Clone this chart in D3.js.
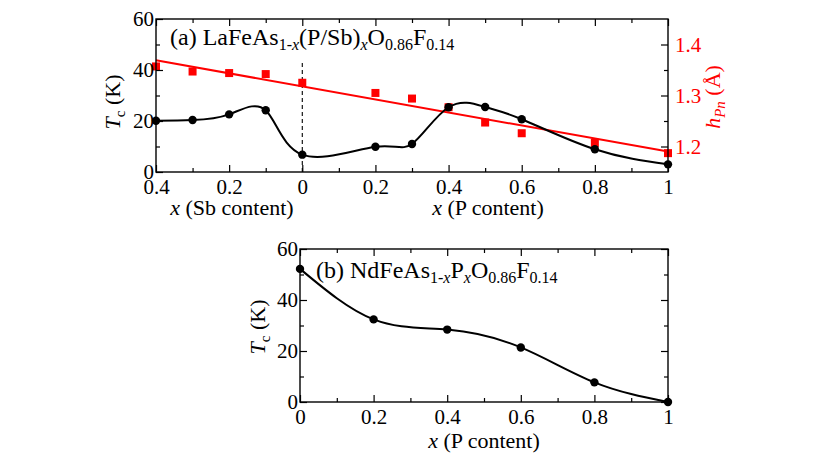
<!DOCTYPE html>
<html>
<head>
<meta charset="utf-8">
<script src="https://cdn.jsdelivr.net/npm/d3@7"></script>
<style>
  body { margin: 0; background: #fff; }
  svg text, svg tspan { font-family: "Liberation Serif", "DejaVu Serif", serif !important; }
</style>
</head>
<body>
<svg id="chart" width="830" height="467" font-family="Liberation Serif"></svg>
<script>
// panel (a): negative x = Sb content, positive x = P content
const xA = [-0.4, -0.3, -0.2, -0.1, 0, 0.2, 0.3, 0.4, 0.5, 0.6, 0.8, 1];
const tcA = [20.1, 20.4, 22.6, 24.2, 6.8, 9.9, 11.0, 25.4, 25.5, 20.7, 8.9, 3.0];
const hPnA = [1.357, 1.347, 1.344, 1.342, 1.325, 1.305, 1.294, 1.277, 1.247, 1.226, 1.207, 1.187];
const fitX = [-0.4, 1];
const fitH = [1.369, 1.190];
const dashTop = 43;

// panel (b)
const xB = [0, 0.2, 0.4, 0.6, 0.8, 1];
const tcB = [52.2, 32.4, 28.4, 21.4, 7.7, 0];

const tcTicks = [0, 20, 40, 60];
const tcMinor = [10, 30, 50];
const hTicks = [1.2, 1.3, 1.4];
const hMinor = [1.25, 1.35];
const xTicksA = [-0.4, -0.2, 0, 0.2, 0.4, 0.6, 0.8, 1];
const xMinorA = [-0.3, -0.1, 0.1, 0.3, 0.5, 0.7, 0.9];
const xTicksB = [0, 0.2, 0.4, 0.6, 0.8, 1];
const xMinorB = [0.1, 0.3, 0.5, 0.7, 0.9];

const svg = d3.select('#chart');
const red = '#ff0000';
const serif = 'Liberation Serif';
const tickFont = 21;

function fmt(d) {
    const v = Math.abs(d);
    return v === 0 ? '0' : String(+v.toFixed(2));
}

// draws inward ticks on all four sides + frame
function frame(g, x, y, xt, xm, yt, ym, w, h, noRight) {
    g.append('g').attr('transform', `translate(0,${h})`)
        .call(d3.axisBottom(x).tickValues(xt).tickSize(-7).tickPadding(7).tickFormat(fmt));
    g.append('g').attr('transform', `translate(0,${h})`)
        .call(d3.axisBottom(x).tickValues(xm).tickSize(-4).tickFormat(''));
    g.append('g').call(d3.axisTop(x).tickValues(xt).tickSize(-7).tickFormat(''));
    g.append('g').call(d3.axisTop(x).tickValues(xm).tickSize(-4).tickFormat(''));
    g.append('g').call(d3.axisLeft(y).tickValues(yt).tickSize(-7).tickPadding(2).tickFormat(d3.format('d')));
    g.append('g').call(d3.axisLeft(y).tickValues(ym).tickSize(-4).tickFormat(''));
    if (!noRight) {
        g.append('g').attr('transform', `translate(${w},0)`)
            .call(d3.axisRight(y).tickValues(yt).tickSize(-7).tickFormat(''));
        g.append('g').attr('transform', `translate(${w},0)`)
            .call(d3.axisRight(y).tickValues(ym).tickSize(-4).tickFormat(''));
    }
    g.selectAll('.domain').remove();
    g.selectAll('g').attr('font-family', serif);
    g.selectAll('.tick line').attr('stroke', '#000').attr('stroke-width', 1.2);
    g.selectAll('.tick text').attr('font-size', tickFont).attr('fill', '#000')
        .attr('font-family', serif);
    g.append('rect').attr('width', w).attr('height', h)
        .attr('fill', 'none').attr('stroke', '#000').attr('stroke-width', 1.4);
}

function formula(g, x, y, parts) {
    const t = g.append('text').attr('x', x).attr('y', y).attr('font-size', 24)
        .attr('font-family', serif).attr('fill', '#000');
    let shifted = false;
    parts.forEach(p => {
        const s = t.append('tspan').text(p.t);
        if (p.sub) {
            s.attr('font-size', 16);
            if (!shifted) s.attr('dy', 5);
            shifted = true;
        } else if (shifted) {
            s.attr('dy', -5);
            shifted = false;
        }
        if (p.it) s.attr('font-style', 'italic');
    });
}

function axisTitle(x, y, rest) {
    const t = svg.append('text').attr('x', x).attr('y', y).attr('text-anchor', 'middle')
        .attr('font-size', 22).attr('font-family', serif);
    t.append('tspan').attr('font-style', 'italic').text('x');
    t.append('tspan').text(rest);
}

function tcLabel(x, y) {
    const t = svg.append('text').attr('transform', `translate(${x},${y}) rotate(-90)`)
        .attr('text-anchor', 'middle').attr('font-size', 22).attr('font-family', serif);
    t.append('tspan').attr('font-style', 'italic').text('T');
    t.append('tspan').attr('font-size', 15).attr('dy', 5).text('c');
    t.append('tspan').attr('dy', -5).text(' (K)');
}

// ---------- panel (a) ----------
const wA = 512, hA = 153;
const gA = svg.append('g').attr('transform', 'translate(156,19)');
const xScaleA = d3.scaleLinear().domain([-0.4, 1]).range([0, wA]);
const yScaleA = d3.scaleLinear().domain([0, 60]).range([hA, 0]);
const hScale = d3.scaleLinear().domain([1.15, 1.45]).range([hA, 0]);

gA.append('line')
    .attr('x1', xScaleA(0)).attr('x2', xScaleA(0))
    .attr('y1', yScaleA(0)).attr('y2', yScaleA(dashTop))
    .attr('stroke', '#000').attr('stroke-width', 1.1).attr('stroke-dasharray', '4,3');

// red linear fit
gA.append('line')
    .attr('x1', xScaleA(fitX[0])).attr('y1', hScale(fitH[0]))
    .attr('x2', xScaleA(fitX[1])).attr('y2', hScale(fitH[1]))
    .attr('stroke', red).attr('stroke-width', 2);

gA.selectAll('rect.hpn')
    .data(xA)
    .join('rect')
    .attr('class', 'hpn')
    .attr('x', d => xScaleA(d) - 4)
    .attr('y', (d, i) => hScale(hPnA[i]) - 4)
    .attr('width', 8).attr('height', 8)
    .attr('fill', red);

const lineA = d3.line()
    .x(d => xScaleA(d[0]))
    .y(d => yScaleA(d[1]))
    .curve(d3.curveNatural);

gA.append('path')
    .datum(xA.map((d, i) => [d, tcA[i]]))
    .attr('d', lineA)
    .attr('fill', 'none').attr('stroke', '#000').attr('stroke-width', 2);

gA.selectAll('circle')
    .data(xA)
    .join('circle')
    .attr('cx', d => xScaleA(d))
    .attr('cy', (d, i) => yScaleA(tcA[i]))
    .attr('r', 4.2)
    .attr('fill', '#000');

frame(gA, xScaleA, yScaleA, xTicksA, xMinorA, tcTicks, tcMinor, wA, hA, true);

// right axis (h_Pn)
const rA = gA.append('g').attr('transform', `translate(${wA},0)`);
rA.append('g').call(d3.axisLeft(hScale).tickValues(hTicks).tickSize(7).tickFormat(d3.format('.1f')));
rA.append('g').call(d3.axisLeft(hScale).tickValues(hMinor).tickSize(4).tickFormat(''));
rA.selectAll('.domain').remove();
rA.selectAll('g').attr('font-family', serif);
rA.selectAll('.tick line').attr('stroke', '#000').attr('stroke-width', 1.2);
rA.selectAll('.tick text').attr('font-size', tickFont).attr('fill', red)
    .attr('text-anchor', 'start').attr('x', 7).attr('font-family', serif);

formula(svg, 170, 45, [
    { t: '(a) LaFeAs' }, { t: '1-', sub: true }, { t: 'x', sub: true, it: true },
    { t: '(P/Sb)' }, { t: 'x', sub: true, it: true },
    { t: 'O' }, { t: '0.86', sub: true }, { t: 'F' }, { t: '0.14', sub: true }
]);

axisTitle(232, 215, ' (Sb content)');
axisTitle(488, 215, ' (P content)');
tcLabel(120, 102);

const hl = svg.append('text').attr('transform', 'translate(720,97) rotate(-90)')
    .attr('text-anchor', 'middle').attr('font-size', 22).attr('font-family', serif).attr('fill', red);
hl.append('tspan').attr('font-style', 'italic').text('h');
hl.append('tspan').attr('font-style', 'italic').attr('font-size', 15).attr('dy', 5).text('Pn');
hl.append('tspan').attr('dy', -5).text(' (Å)');

// ---------- panel (b) ----------
const wB = 368, hB = 153;
const gB = svg.append('g').attr('transform', 'translate(300,249)');
const xScaleB = d3.scaleLinear().domain([0, 1]).range([0, wB]);
const yScaleB = d3.scaleLinear().domain([0, 60]).range([hB, 0]);

gB.append('path')
    .datum(xB.map((d, i) => [d, tcB[i]]))
    .attr('d', d3.line().x(d => xScaleB(d[0])).y(d => yScaleB(d[1])).curve(d3.curveNatural))
    .attr('fill', 'none').attr('stroke', '#000').attr('stroke-width', 2);

gB.selectAll('circle')
    .data(xB)
    .join('circle')
    .attr('cx', d => xScaleB(d))
    .attr('cy', (d, i) => yScaleB(tcB[i]))
    .attr('r', 4.2)
    .attr('fill', '#000');

frame(gB, xScaleB, yScaleB, xTicksB, xMinorB, tcTicks, tcMinor, wB, hB, false);

formula(svg, 316, 278, [
    { t: '(b) NdFeAs' }, { t: '1-', sub: true }, { t: 'x', sub: true, it: true },
    { t: 'P' }, { t: 'x', sub: true, it: true },
    { t: 'O' }, { t: '0.86', sub: true }, { t: 'F' }, { t: '0.14', sub: true }
]);

axisTitle(484, 448, ' (P content)');
tcLabel(265, 327);
</script>
</body>
</html>
